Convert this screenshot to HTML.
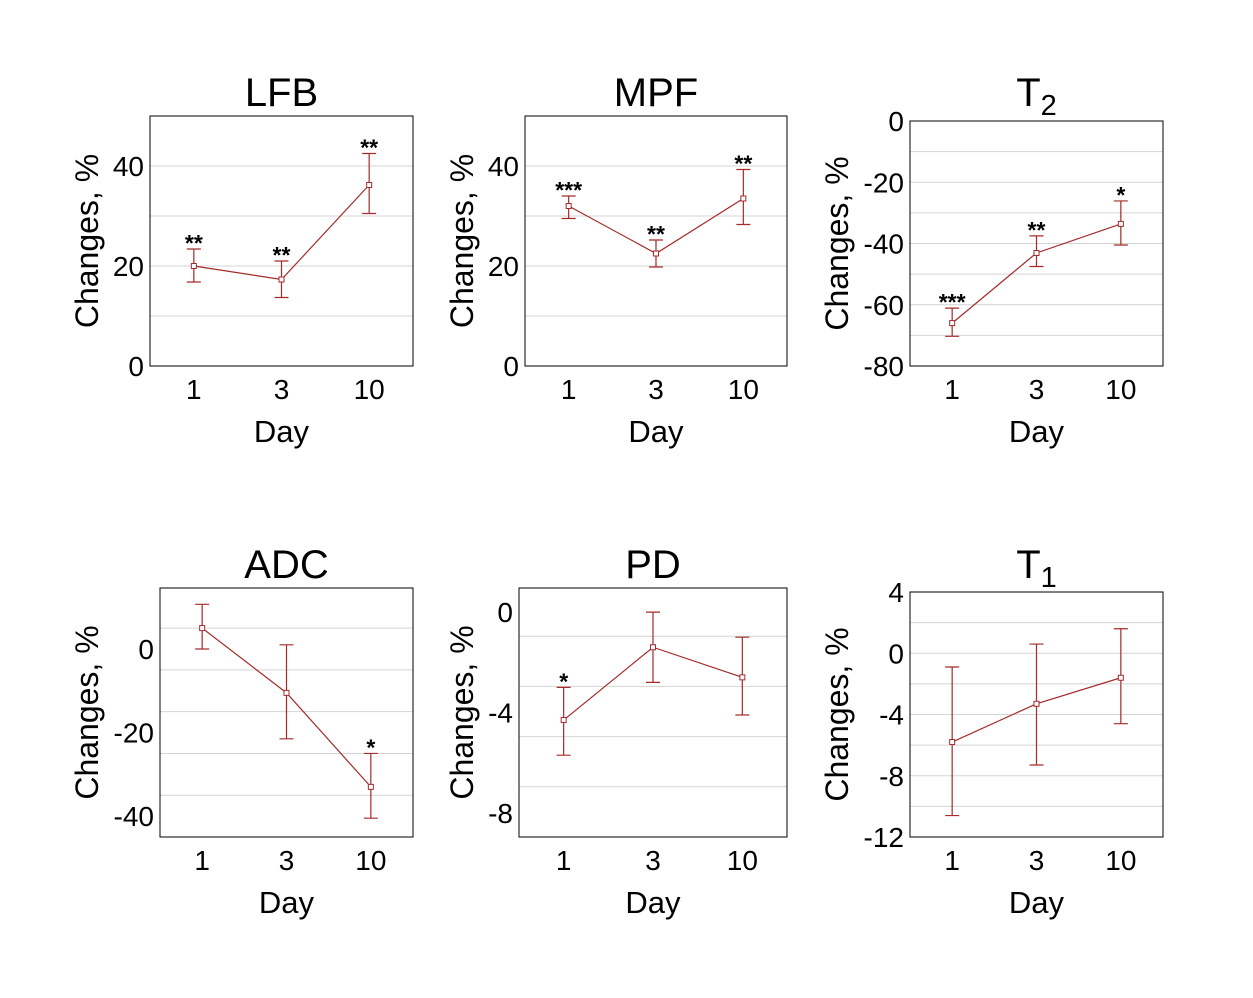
<!DOCTYPE html>
<html><head><meta charset="utf-8"><style>
body{margin:0;background:#fff}
svg{display:block;font-family:"Liberation Sans",Arial,sans-serif}
</style></head><body>
<svg id="fig" width="1253" height="998" viewBox="0 0 1253 998" xmlns="http://www.w3.org/2000/svg"></svg>
<script>
const categories = ["1","3","10"];
const lfbValues=[20,17.3,36.2], lfbLo=[16.8,13.7,30.5], lfbHi=[23.4,21,42.5], lfbStars=["**","**","**"];
const mpfValues=[32,22.5,33.5], mpfLo=[29.5,19.8,28.3], mpfHi=[34,25.2,39.3], mpfStars=["***","**","**"];
const t2Values=[-66,-43.1,-33.6], t2Lo=[-70.3,-47.5,-40.5], t2Hi=[-61.1,-37.5,-26.1], t2Stars=["***","**","*"];
const adcValues=[5,-10.5,-33], adcLo=[0,-21.5,-40.5], adcHi=[10.7,1,-25], adcStars=["","","*"];
const pdValues=[-4.3,-1.4,-2.6], pdLo=[-5.7,-2.8,-4.1], pdHi=[-3,0,-1], pdStars=["*","",""];
const t1Values=[-5.8,-3.3,-1.6], t1Lo=[-10.6,-7.3,-4.6], t1Hi=[-0.9,0.6,1.6], t1Stars=["","",""];
const lfbTicks=[0,20,40], t2Ticks=[0,-20,-40,-60,-80], adcTicks=[0,-20,-40], pdTicks=[0,-4,-8], t1Ticks=[4,0,-4,-8,-12];

const svg=document.getElementById('fig');
const NS="http://www.w3.org/2000/svg";
function mk(tag,attrs,parent){const e=document.createElementNS(NS,tag);for(const k in attrs)e.setAttribute(k,attrs[k]);(parent||svg).appendChild(e);return e;}

function panel(p){
  const g=mk('g',{});
  
  
  const yS=v=>p.y1-(v-p.min)/(p.max-p.min)*(p.y1-p.y0);
  const xS=i=>p.x0+(2*i+1)/6*(p.x1-p.x0);
  for(let v=p.min;v<=p.max+1e-9;v+=p.grid){
    if(v===p.min||v===p.max)continue;
    const l=mk('line',{x1:p.x0,x2:p.x1,y1:yS(v),y2:yS(v),stroke:'#d4d4d4','stroke-width':1},g);
    
    
  }
  const box=mk('rect',{x:p.x0,y:p.y0,width:p.x1-p.x0,height:p.y1-p.y0,fill:'none',stroke:'#000','stroke-width':1},g);
  
  
  p.ticks.forEach(v=>{
    const t=mk('text',{x:p.x0-6,y:yS(v)+10,'text-anchor':'end','font-size':28},g);t.textContent=v;
    
    
  });
  categories.forEach((c,i)=>{
    const t=mk('text',{x:xS(i),y:p.y1+33,'text-anchor':'middle','font-size':28},g);t.textContent=c;
    
    
  });
  const xt=mk('text',{x:(p.x0+p.x1)/2,y:p.y1+76,'text-anchor':'middle','font-size':31},g);xt.textContent='Day';
  
  
  const yt=mk('text',{x:0,y:0,'text-anchor':'middle','font-size':32,transform:`translate(${p.ylx},${(p.y0+p.y1)/2}) rotate(-90)`},g);yt.textContent='Changes, %';
  
  
  const tt=mk('text',{x:(p.x0+p.x1)/2,y:p.ty,'text-anchor':'middle','font-size':40},g);
  
  
  if(p.sub){tt.textContent='T';const s=mk('tspan',{'font-size':29,dy:9},tt);s.textContent=p.sub;}else tt.textContent=p.title;
  const col='#a52a2a';
  const pts=p.vals.map((v,i)=>xS(i)+','+yS(v)).join(' ');
  const pl=mk('polyline',{points:pts,fill:'none',stroke:col,'stroke-width':1.2},g);
  
  
  p.vals.forEach((v,i)=>{
    const x=xS(i);
    const eb=mk('path',{d:`M${x},${yS(p.lo[i])}V${yS(p.hi[i])}M${x-7},${yS(p.lo[i])}h14M${x-7},${yS(p.hi[i])}h14`,stroke:col,'stroke-width':1.2,fill:'none'},g);
    
    
    const m=mk('rect',{x:x-2.5,y:yS(v)-2.5,width:5,height:5,fill:'#fff',stroke:col,'stroke-width':1},g);
    
    
    if(p.stars[i]){
      const s=mk('text',{x:x,y:yS(p.hi[i])+2,'text-anchor':'middle','font-size':23,'font-weight':'bold'},g);s.textContent=p.stars[i];
      
      
    }
  });
}
panel({key:'lfb',title:'LFB',x0:150,x1:413,y0:116,y1:366,min:0,max:50,grid:10,ticks:lfbTicks,vals:lfbValues,lo:lfbLo,hi:lfbHi,stars:lfbStars,ylx:98,ty:106});
panel({key:'mpf',title:'MPF',x0:525,x1:787,y0:116,y1:366,min:0,max:50,grid:10,ticks:lfbTicks,vals:mpfValues,lo:mpfLo,hi:mpfHi,stars:mpfStars,ylx:473,ty:106});
panel({key:'t2',sub:'2',x0:910,x1:1163,y0:121,y1:366,min:-80,max:0,grid:10,ticks:t2Ticks,vals:t2Values,lo:t2Lo,hi:t2Hi,stars:t2Stars,ylx:848,ty:106});
panel({key:'adc',title:'ADC',x0:160,x1:413,y0:588,y1:837,min:-45,max:14.6,grid:10,ticks:adcTicks,vals:adcValues,lo:adcLo,hi:adcHi,stars:adcStars,ylx:98,ty:578});
panel({key:'pd',title:'PD',x0:519,x1:787,y0:588,y1:837,min:-8.96,max:0.96,grid:2,ticks:pdTicks,vals:pdValues,lo:pdLo,hi:pdHi,stars:pdStars,ylx:473,ty:578});
panel({key:'t1',sub:'1',x0:910,x1:1163,y0:592,y1:837,min:-12,max:4,grid:2,ticks:t1Ticks,vals:t1Values,lo:t1Lo,hi:t1Hi,stars:t1Stars,ylx:848,ty:578});
</script>
</body></html>
